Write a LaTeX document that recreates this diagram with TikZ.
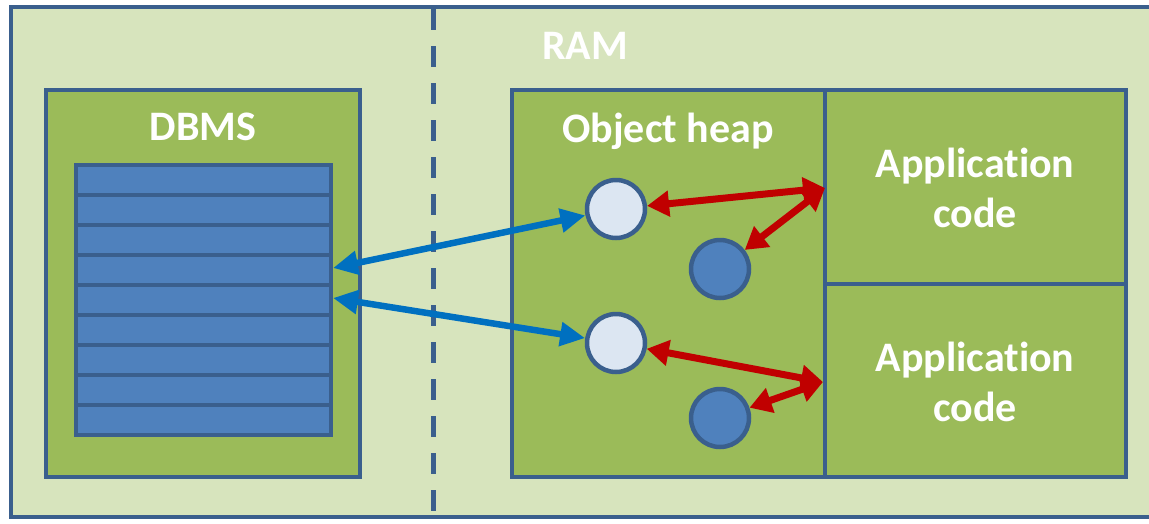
\documentclass[tikz,border=0pt]{standalone}
\usepackage{fontspec}
\setmainfont{Carlito}[Ligatures={NoCommon}]
\usetikzlibrary{arrows.meta}
\definecolor{bgl}{HTML}{D7E4BD}
\definecolor{grn}{HTML}{9BBB59}
\definecolor{bord}{HTML}{3A5F8D}
\definecolor{blu}{HTML}{4F81BD}
\definecolor{lcirc}{HTML}{DCE6F2}
\definecolor{redar}{HTML}{C00000}
\definecolor{bluar}{HTML}{0070C0}
\tikzset{
  box/.style={draw=bord, line width=4pt, fill=grn},
  lbl/.style={text=white, font=\bfseries\fontsize{42}{50}\selectfont, align=center},
  objl/.style={circle, draw=bord, line width=4.5pt, fill=lcirc, minimum size=58pt, inner sep=0pt},
  objd/.style={circle, draw=bord, line width=4.5pt, fill=blu, minimum size=58pt, inner sep=0pt},
  redarrow/.style={draw=redar, line width=7pt, {Triangle[length=22pt,width=25pt]}-{Triangle[length=22pt,width=25pt]}},
  bluearrow/.style={draw=bluar, line width=6.5pt, {Triangle[length=25pt,width=23pt]}-{Triangle[length=25pt,width=23pt]}},
}
\begin{document}
\begin{tikzpicture}[x=1pt,y=-1pt]
\clip (0,0) rectangle (1149,523);
% outer RAM area
\draw[draw=bord, line width=4pt, fill=bgl] (11,7) rectangle (1165,517);
\draw[draw=bord, line width=5pt, dash pattern=on 21pt off 16pt] (433,9) -- (433,515);
\node[lbl] (ram) at (585,46) {RAM};
% DBMS
\draw[box] (46,90) rectangle (360,477);
\node[lbl] (dbms) at (203,127) {DBMS};
\draw[draw=bord, line width=4pt, fill=blu] (76,165) rectangle (331,435);
\foreach \i in {1,...,8}{
  \draw[draw=bord, line width=4pt] (76,{165+\i*30}) -- (331,{165+\i*30});
}
\coordinate (tA) at (333,268);
\coordinate (tB) at (333,298);
% heap and application code
\draw[box] (512,90) rectangle (825,477);
\draw[box] (825,90) rectangle (1126,284);
\draw[box] (825,284) rectangle (1126,477);
\node[lbl] (heap) at (668,131) {Object heap};
\node[lbl] (app1) at (975,188) {Application\\code};
\node[lbl] (app2) at (975,382) {Application\\code};
\coordinate (a1) at (825,188);
\coordinate (a2) at (823,382);
% objects
\node[objl] (o1) at (616,209) {};
\node[objd] (d1) at (720,269) {};
\node[objl] (o2) at (616,343) {};
\node[objd] (d2) at (720,418) {};
% arrows
\draw[bluearrow] (tA) -- (o1);
\draw[bluearrow] (tB) -- (o2);
\draw[redarrow] (o1) -- (a1);
\draw[redarrow] (d1) -- (a1);
\draw[redarrow] (o2) -- (a2);
\draw[redarrow] (d2) -- (a2);
\end{tikzpicture}
\end{document}
